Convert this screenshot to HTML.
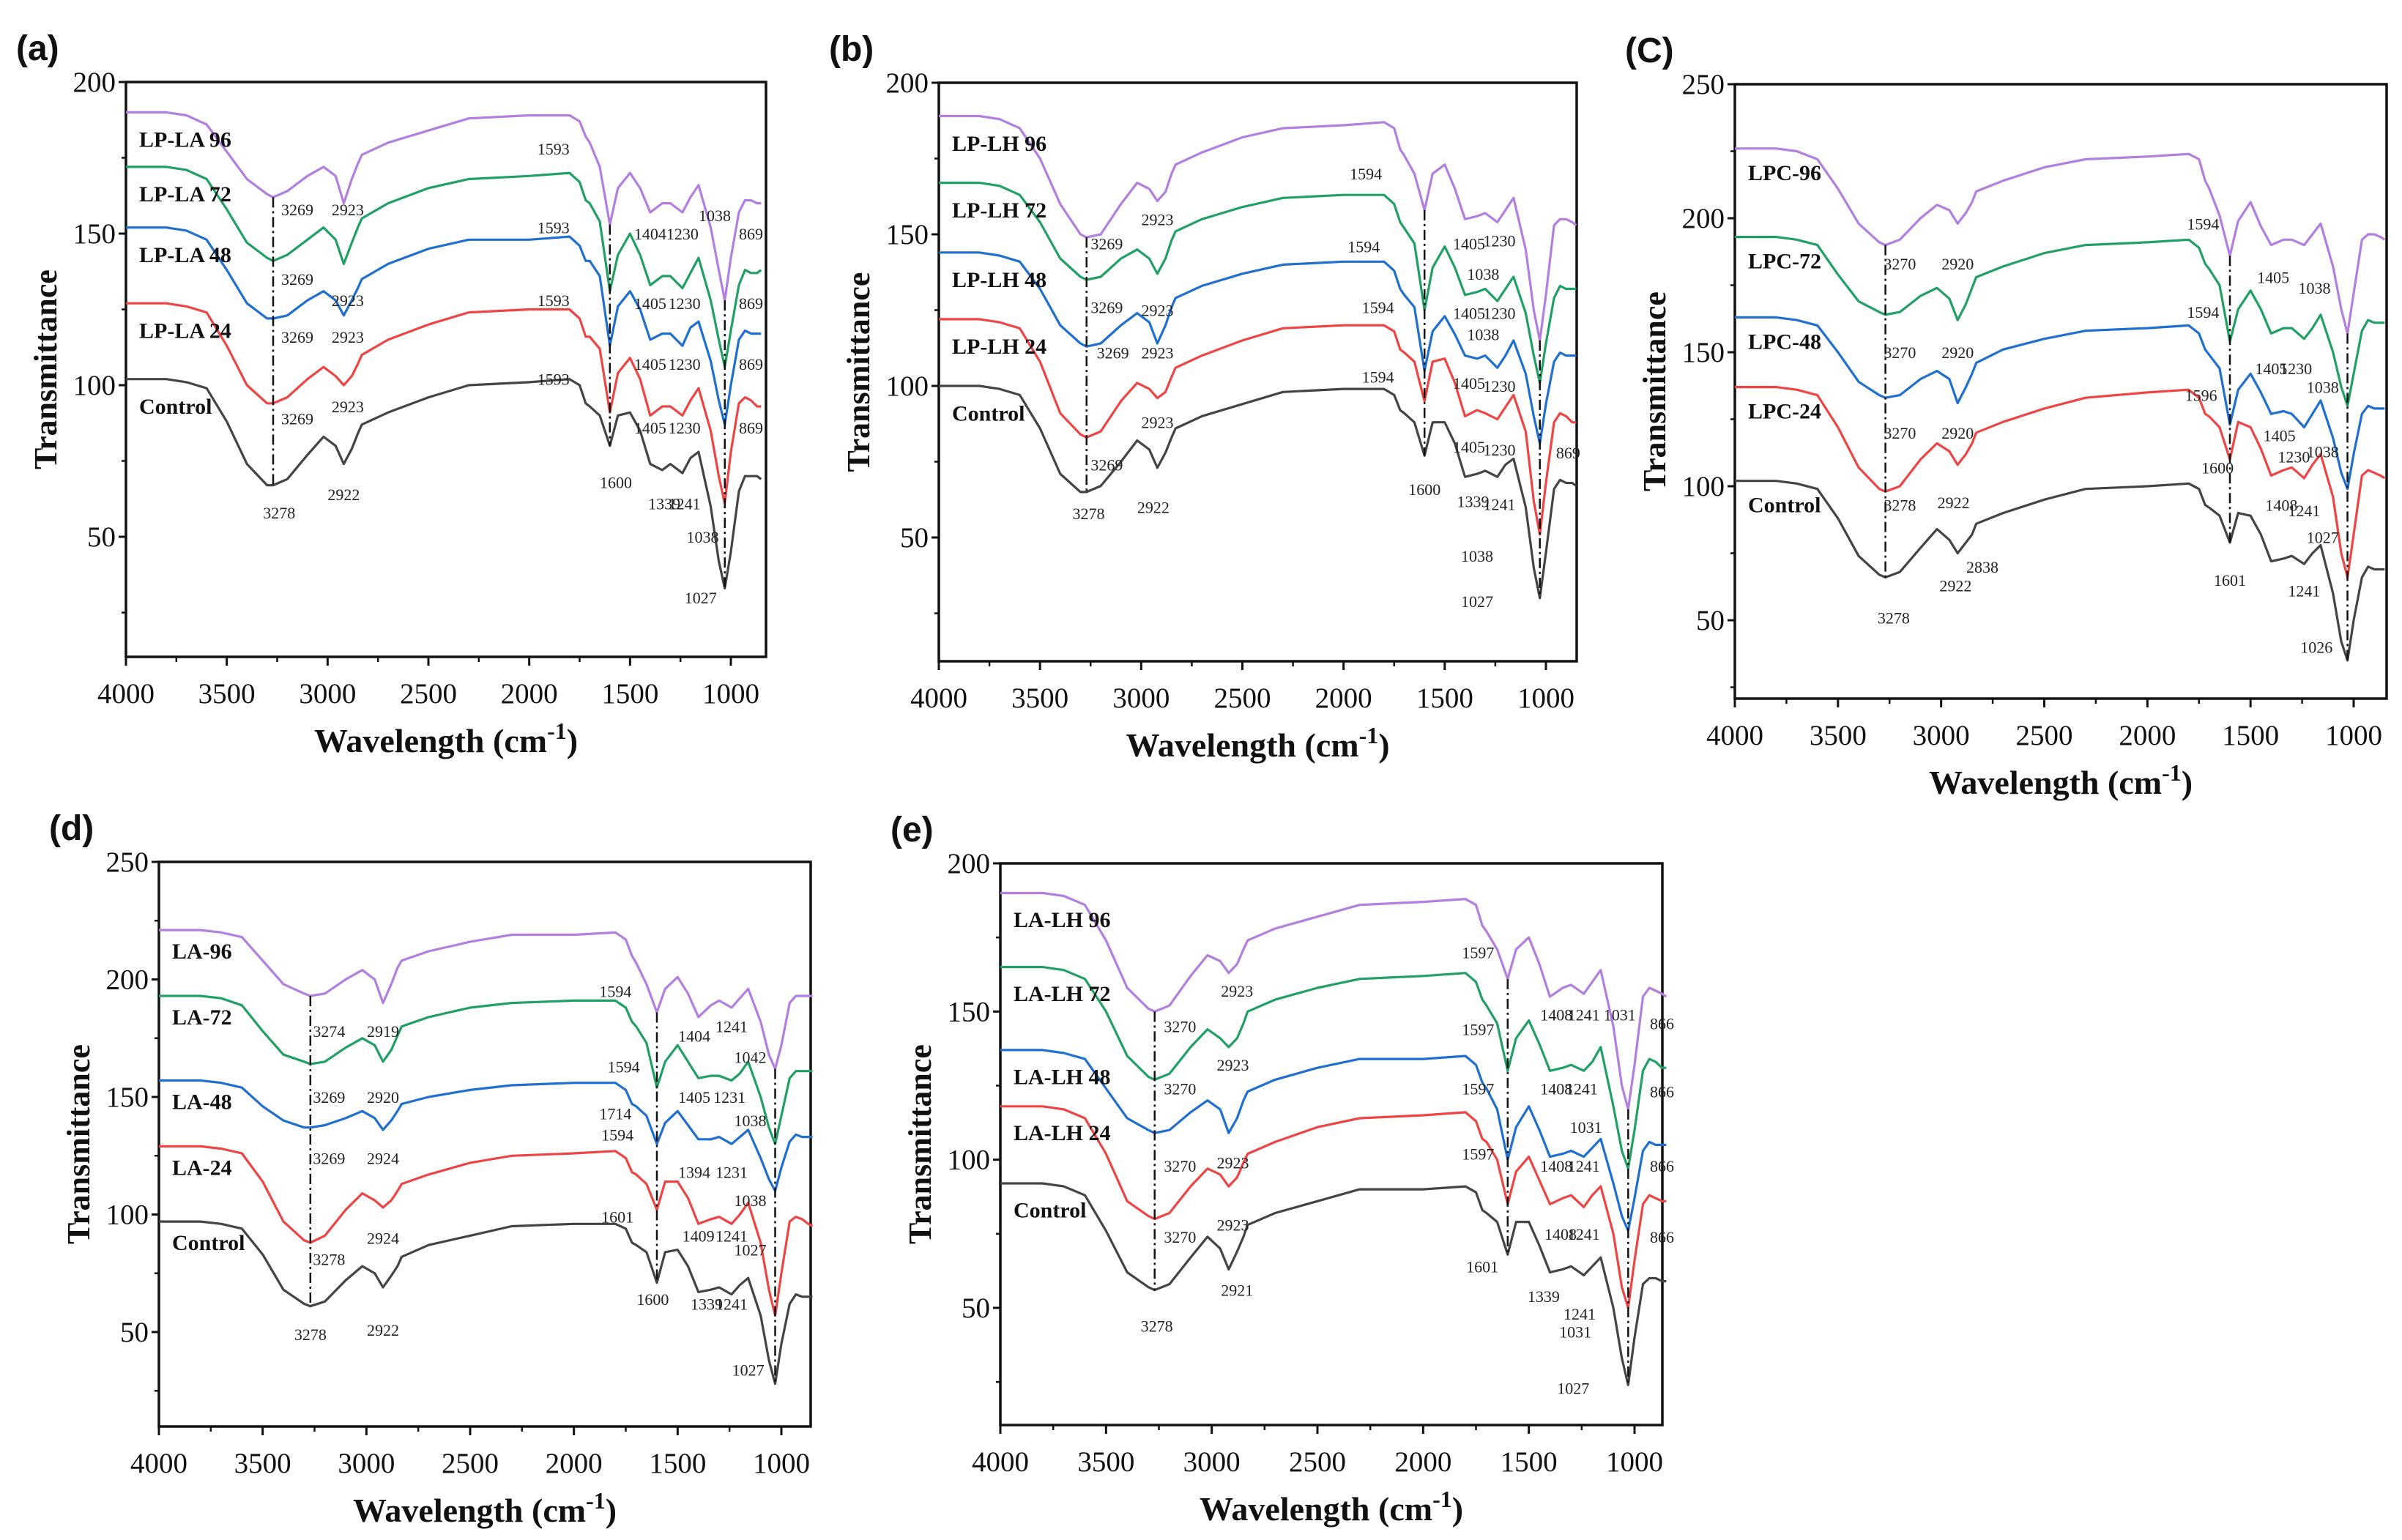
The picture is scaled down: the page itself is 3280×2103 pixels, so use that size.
<!DOCTYPE html>
<html><head><meta charset="utf-8">
<style>
html,body{margin:0;padding:0;background:#fff;}
svg{display:block;}
</style></head>
<body>
<svg id="fig" width="3280" height="2103" viewBox="0 0 3280 2103" xmlns="http://www.w3.org/2000/svg"></svg>
<script>
// shared wavenumber grid (cm-1)
const wavenumbers = [4000,3800,3700,3600,3500,3400,3300,3270,3200,3100,3020,2960,2920,2880,2850,2830,2700,2500,2300,2000,1800,1750,1720,1700,1650,1600,1560,1500,1450,1400,1340,1300,1240,1200,1160,1100,1060,1030,1000,960,930,900,870,850];
const xTicks = [4000,3500,3000,2500,2000,1500,1000];
const seriesColors = ['#444444','#ee4444','#1f6fd0','#21a065','#b27fe0'];

// panel (a)
const aNames = ['Control','LP-LA 24','LP-LA 48','LP-LA 72','LP-LA 96'];
const aControl = [102,102,101,99,88,74,67,67,69,77,83,80,74,79,84,87,91,96,100,101,102,100,94,93,90,80,90,91,85,74,72,74,71,76,78,60,42,33,45,65,70,70,70,69];
const aLA24 = [127,127,126,124,113,100,94,94,96,102,106,103,100,103,107,110,115,120,124,125,125,122,116,116,112,91,104,109,102,90,93,93,90,95,99,85,70,61,78,94,96,95,93,93];
const aLA48 = [152,152,151,148,138,127,122,122,123,128,131,128,123,128,132,135,140,145,148,148,149,146,141,141,136,113,126,131,125,115,117,117,113,119,121,108,95,87,100,115,118,117,117,117];
const aLA72 = [172,172,171,168,158,147,142,141,143,148,152,148,140,147,152,155,160,165,168,169,170,167,161,160,154,131,143,150,143,133,136,136,132,137,142,128,115,106,118,133,138,137,137,138];
const aLA96 = [190,190,189,186,177,168,163,162,164,169,172,169,160,168,173,176,180,184,188,189,189,187,182,180,172,153,165,170,165,157,160,160,157,162,166,152,138,128,142,157,161,161,160,160];
const aYTicks = [50,100,150,200];
const aNotes = [[3150,158,'3269'],[2900,158,'2923'],[3150,135,'3269'],[2900,128,'2923'],[3150,116,'3269'],[2900,116,'2923'],[3150,89,'3269'],[2900,93,'2923'],[3240,58,'3278'],[2920,64,'2922'],[1880,178,'1593'],[1880,152,'1593'],[1880,128,'1593'],[1880,102,'1593'],[1570,68,'1600'],[1400,150,'1404'],[1400,127,'1405'],[1400,107,'1405'],[1400,86,'1405'],[1330,61,'1339'],[1240,150,'1230'],[1230,127,'1230'],[1230,107,'1230'],[1230,86,'1230'],[1230,61,'1241'],[1080,156,'1038'],[1140,50,'1038'],[1150,30,'1027'],[900,150,'869'],[900,127,'869'],[900,107,'869'],[900,86,'869']];

// panel (b)
const bNames = ['Control','LP-LH 24','LP-LH 48','LP-LH 72','LP-LH 96'];
const bControl = [100,100,99,97,86,71,65,65,67,75,82,79,73,78,83,86,90,94,98,99,99,97,92,91,88,77,88,88,81,70,71,72,70,74,76,60,40,30,45,66,69,68,68,67];
const bLH24 = [122,122,121,119,108,91,84,83,85,95,101,99,96,98,103,106,110,115,119,120,120,118,112,111,108,95,108,109,101,90,92,91,89,93,97,85,62,51,68,88,91,90,88,88];
const bLH48 = [144,144,143,141,132,120,114,113,114,120,124,121,114,120,126,129,133,137,140,141,141,138,132,130,126,105,118,123,117,110,109,110,106,110,115,104,90,81,94,108,111,110,110,110];
const bLH72 = [167,167,166,163,154,142,136,135,136,142,145,142,137,142,148,151,155,159,162,163,163,160,154,152,147,125,139,146,139,130,131,132,128,132,136,124,110,101,114,129,133,132,132,132];
const bLH96 = [189,189,188,185,175,160,150,149,150,160,167,165,161,164,170,173,177,182,185,186,187,185,178,176,170,158,170,173,165,155,156,157,154,158,162,145,125,115,130,153,155,155,154,153];
const bYTicks = [50,100,150,200];
const bNotes = [[3170,147,'3269'],[2920,155,'2923'],[3170,126,'3269'],[2920,125,'2923'],[3140,111,'3269'],[2920,111,'2923'],[3170,74,'3269'],[2920,88,'2923'],[3260,58,'3278'],[2940,60,'2922'],[1890,170,'1594'],[1900,146,'1594'],[1830,126,'1594'],[1830,103,'1594'],[1600,66,'1600'],[1380,147,'1405'],[1230,148,'1230'],[1380,124,'1405'],[1230,124,'1230'],[1380,101,'1405'],[1230,100,'1230'],[1380,80,'1405'],[1230,79,'1230'],[1360,62,'1339'],[1230,61,'1241'],[1310,137,'1038'],[1310,117,'1038'],[1340,44,'1038'],[1340,29,'1027'],[890,78,'869']];

// panel (c)
const cNames = ['Control','LPC-24','LPC-48','LPC-72','LPC-96'];
const cControl = [102,102,101,99,88,74,67,66,68,77,84,80,75,79,82,86,90,95,99,100,101,99,93,92,89,79,90,89,82,72,73,74,71,75,78,60,42,35,50,66,70,69,69,69];
const cLPC24 = [137,137,136,134,122,107,99,98,100,110,116,113,108,112,116,120,124,129,133,135,136,133,127,126,122,110,124,122,114,104,106,107,103,108,112,96,75,66,82,104,106,105,104,103];
const cLPC48 = [163,163,162,160,150,139,134,133,134,140,143,140,131,137,142,146,151,155,158,159,160,157,151,149,144,123,136,142,135,127,128,127,122,127,132,118,105,99,112,127,130,129,129,129];
const cLPC72 = [193,193,192,190,179,169,165,164,165,171,174,170,162,168,174,178,182,187,190,191,192,189,183,181,175,154,166,173,166,157,159,159,155,159,164,150,137,130,142,158,162,161,161,161];
const cLPC96 = [226,226,225,222,211,198,191,190,192,200,205,203,198,202,206,210,214,219,222,223,224,222,214,211,201,186,199,206,197,190,192,192,190,194,198,182,166,157,172,192,194,194,193,192];
const cYTicks = [50,100,150,200,250];
const cNotes = [[3200,183,'3270'],[2920,183,'2920'],[3200,150,'3270'],[2920,150,'2920'],[3200,120,'3270'],[2920,120,'2920'],[3200,93,'3278'],[2940,94,'2922'],[3230,51,'3278'],[2930,63,'2922'],[2800,70,'2838'],[1730,198,'1594'],[1730,165,'1594'],[1740,134,'1596'],[1660,107,'1600'],[1600,65,'1601'],[1390,178,'1405'],[1400,144,'1405'],[1280,144,'1230'],[1360,119,'1405'],[1290,111,'1230'],[1350,93,'1408'],[1240,91,'1241'],[1240,61,'1241'],[1190,174,'1038'],[1150,137,'1038'],[1150,113,'1038'],[1150,81,'1027'],[1180,40,'1026']];

// panel (d)
const dNames = ['Control','LA-24','LA-48','LA-72','LA-96'];
const dControl = [97,97,96,94,83,68,62,61,63,72,78,75,69,74,78,82,87,91,95,96,96,94,88,87,84,71,84,85,78,67,68,69,66,70,73,57,38,28,45,62,66,65,65,65];
const dLA24 = [129,129,128,126,114,97,89,88,91,102,109,106,103,106,110,113,117,122,125,126,127,124,118,117,113,102,114,114,107,96,98,99,96,100,105,88,68,57,75,97,99,98,96,95];
const dLA48 = [157,157,156,154,146,140,137,137,138,141,144,141,136,140,144,147,150,153,155,156,156,153,147,146,142,130,139,144,138,132,132,133,130,133,136,124,115,110,120,131,134,133,133,133];
const dLA72 = [193,193,192,189,178,168,165,164,165,171,175,172,165,170,176,180,184,188,190,191,191,188,182,180,173,154,165,172,165,158,159,159,157,160,165,150,137,130,142,158,161,161,161,161];
const dLA96 = [221,221,220,218,208,198,194,193,194,200,204,200,190,198,205,208,212,216,219,219,220,217,210,207,198,186,196,201,194,184,189,191,188,192,196,182,168,162,172,190,193,193,193,193];
const dYTicks = [50,100,150,200,250];
const dNotes = [[3180,178,'3274'],[2920,178,'2919'],[3180,150,'3269'],[2920,150,'2920'],[3180,124,'3269'],[2920,124,'2924'],[3180,81,'3278'],[2920,90,'2924'],[3270,49,'3278'],[2920,51,'2922'],[1800,195,'1594'],[1760,163,'1594'],[1800,143,'1714'],[1790,134,'1594'],[1790,99,'1601'],[1620,64,'1600'],[1420,176,'1404'],[1420,150,'1405'],[1420,118,'1394'],[1400,91,'1409'],[1360,62,'1339'],[1240,180,'1241'],[1250,150,'1231'],[1240,118,'1231'],[1240,91,'1241'],[1240,62,'1241'],[1150,167,'1042'],[1150,140,'1038'],[1150,106,'1038'],[1150,85,'1027'],[1160,34,'1027']];

// panel (e)
const eNames = ['Control','LA-LH 24','LA-LH 48','LA-LH 72','LA-LH 96'];
const eControl = [92,92,91,88,76,62,57,56,58,67,74,70,63,69,74,78,82,86,90,90,91,89,83,82,79,68,79,79,71,62,63,64,61,64,67,50,33,24,40,58,60,60,59,59];
const eLH24 = [118,118,117,114,102,86,81,80,82,91,97,95,91,94,99,102,106,111,114,115,116,113,107,106,100,85,96,101,93,85,87,88,84,88,91,75,57,50,66,85,88,87,86,86];
const eLH48 = [137,137,136,134,124,114,110,109,110,116,120,117,109,114,120,123,127,131,134,134,135,132,126,124,117,100,111,118,110,101,102,103,101,104,107,92,81,76,87,103,106,105,105,105];
const eLH72 = [165,165,164,161,150,135,128,127,129,138,144,141,138,141,146,150,154,158,161,162,163,160,154,152,146,130,141,147,139,130,131,132,130,133,138,118,103,97,110,130,134,133,131,131];
const eLH96 = [190,190,189,186,174,158,151,150,152,162,169,167,163,166,171,174,178,182,186,187,188,186,179,177,171,161,171,175,166,155,158,159,156,160,164,145,125,117,132,155,158,157,156,155];
const eYTicks = [50,100,150,200];
const eNotes = [[3150,145,'3270'],[2880,157,'2923'],[3150,124,'3270'],[2900,132,'2923'],[3150,98,'3270'],[2900,99,'2923'],[3150,74,'3270'],[2900,78,'2923'],[3260,44,'3278'],[2880,56,'2921'],[1740,170,'1597'],[1740,144,'1597'],[1740,124,'1597'],[1740,102,'1597'],[1720,64,'1601'],[1430,54,'1339'],[1370,149,'1408'],[1370,124,'1408'],[1370,98,'1408'],[1350,75,'1408'],[1240,149,'1241'],[1250,124,'1241'],[1240,98,'1241'],[1240,75,'1241'],[1260,48,'1241'],[1070,149,'1031'],[1230,111,'1031'],[1280,42,'1031'],[1290,23,'1027'],[870,146,'866'],[870,123,'866'],[870,98,'866'],[870,74,'866']];

const svg = document.getElementById('fig');
const NS = 'http://www.w3.org/2000/svg';
function mk(tag, attrs, text){
  const el = document.createElementNS(NS, tag);
  for (const k in attrs) el.setAttribute(k, attrs[k]);
  if (text !== undefined) el.textContent = text;
  return el;
}

function drawPanel(p){
  const g = mk('g', {});
  
  
  svg.appendChild(g);
  const kx = (p.x1000 - p.left) / 3000;
  const ky = (p.y50 - p.top) / (p.ymax - 50);
  const X = wn => p.left + (4000 - wn) * kx;
  const Y = v => p.top + (p.ymax - v) * ky;

  const frame = mk('rect', {x:p.left, y:p.top, width:p.right-p.left, height:p.bottom-p.top, fill:'none', stroke:'#111', 'stroke-width':3.5});
  
  
  g.appendChild(frame);

  xTicks.forEach(t => {
    const x = X(t);
    const tk = mk('line', {x1:x, y1:p.bottom, x2:x, y2:p.bottom+12, stroke:'#111', 'stroke-width':3});
    
    
    g.appendChild(tk);
    const tl = mk('text', {x:x, y:p.bottom+63, 'font-family':'Liberation Serif, serif', 'font-size':39, 'text-anchor':'middle', fill:'#111'}, String(t));
    
    
    g.appendChild(tl);
    const mx = X(t - 250);
    if (mx < p.right - 4) {
      const mt = mk('line', {x1:mx, y1:p.bottom, x2:mx, y2:p.bottom+7, stroke:'#111', 'stroke-width':2.5});
      
      
      g.appendChild(mt);
    }
  });
  p.yTicks.forEach(t => {
    const y = Y(t);
    const tk = mk('line', {x1:p.left-10, y1:y, x2:p.left, y2:y, stroke:'#111', 'stroke-width':3});
    
    
    g.appendChild(tk);
    const tl = mk('text', {x:p.left-14, y:y+13, 'font-family':'Liberation Serif, serif', 'font-size':39, 'text-anchor':'end', fill:'#111'}, String(t));
    
    
    g.appendChild(tl);
    const my = Y(t - 25);
    if (my < p.bottom - 4) {
      const mt = mk('line', {x1:p.left-6, y1:my, x2:p.left, y2:my, stroke:'#111', 'stroke-width':2.5});
      
      
      g.appendChild(mt);
    }
  });

  const xt = mk('text', {x:(p.left+p.right)/2, y:p.bottom+130, 'font-family':'Liberation Serif, serif', 'font-size':46, 'font-weight':'bold', 'text-anchor':'middle', fill:'#111'});
  
  
  xt.appendChild(mk('tspan', {}, 'Wavelength (cm'));
  xt.appendChild(mk('tspan', {dy:-18, 'font-size':32}, '-1'));
  xt.appendChild(mk('tspan', {dy:18}, ')'));
  g.appendChild(xt);
  const yx = p.left - 95, yy = (p.top + p.bottom)/2;
  const yt = mk('text', {x:yx, y:yy, transform:'rotate(-90 '+yx+' '+yy+')', 'font-family':'Liberation Serif, serif', 'font-size':44, 'font-weight':'bold', 'text-anchor':'middle', fill:'#111'}, 'Transmittance');
  
  
  g.appendChild(yt);

  const pl = mk('text', {x:p.left-150, y:p.top-30, 'font-family':'Liberation Sans, sans-serif', 'font-size':48, 'font-weight':'bold', fill:'#111'}, '(' + p.id + ')');
  
  
  g.appendChild(pl);

  p.series.forEach((vals, i) => {
    const pts = vals.map((v, j) => X(wavenumbers[j]).toFixed(1) + ',' + Y(v).toFixed(1)).join(' ');
    const line = mk('polyline', {points:pts, fill:'none', stroke:seriesColors[i], 'stroke-width':3.2, 'stroke-linejoin':'round'});
    
    
    g.appendChild(line);
    const lb = mk('text', {x:p.left+18, y:Y(vals[0]-9)+10, 'font-family':'Liberation Serif, serif', 'font-size':30, 'font-weight':'bold', fill:'#111'}, p.names[i]);
    
    
    g.appendChild(lb);
  });

  [[3270,7],[1600,25],[1030,37]].forEach(([wn, idx]) => {
    const top = p.series[4][idx], bot = p.series[0][idx];
    const dl = mk('line', {x1:X(wn), y1:Y(top), x2:X(wn), y2:Y(bot), stroke:'#111', 'stroke-width':2.5, 'stroke-dasharray':'14,5,3,5'});
    
    
    g.appendChild(dl);
  });

  p.notes.forEach(([wn, v, txt]) => {
    const t = mk('text', {x:X(wn), y:Y(v)+8, 'font-family':'Liberation Serif, serif', 'font-size':22, 'text-anchor':'middle', fill:'#222'}, txt);
    
    
    g.appendChild(t);
  });
}

drawPanel({id:'a', left:172, top:112, right:1046, bottom:897, x1000:998, y50:733, ymax:200, yTicks:aYTicks, names:aNames, series:[aControl,aLA24,aLA48,aLA72,aLA96], notes:aNotes});
drawPanel({id:'b', left:1282, top:113, right:2153, bottom:903, x1000:2111, y50:734, ymax:200, yTicks:bYTicks, names:bNames, series:[bControl,bLH24,bLH48,bLH72,bLH96], notes:bNotes});
drawPanel({id:'C', left:2369, top:115, right:3259, bottom:954, x1000:3214, y50:847, ymax:250, yTicks:cYTicks, names:cNames, series:[cControl,cLPC24,cLPC48,cLPC72,cLPC96], notes:cNotes});
drawPanel({id:'d', left:217, top:1177, right:1107, bottom:1948, x1000:1067, y50:1819, ymax:250, yTicks:dYTicks, names:dNames, series:[dControl,dLA24,dLA48,dLA72,dLA96], notes:dNotes});
drawPanel({id:'e', left:1366, top:1179, right:2270, bottom:1946, x1000:2232, y50:1786, ymax:200, yTicks:eYTicks, names:eNames, series:[eControl,eLH24,eLH48,eLH72,eLH96], notes:eNotes});
</script>
</body></html>
